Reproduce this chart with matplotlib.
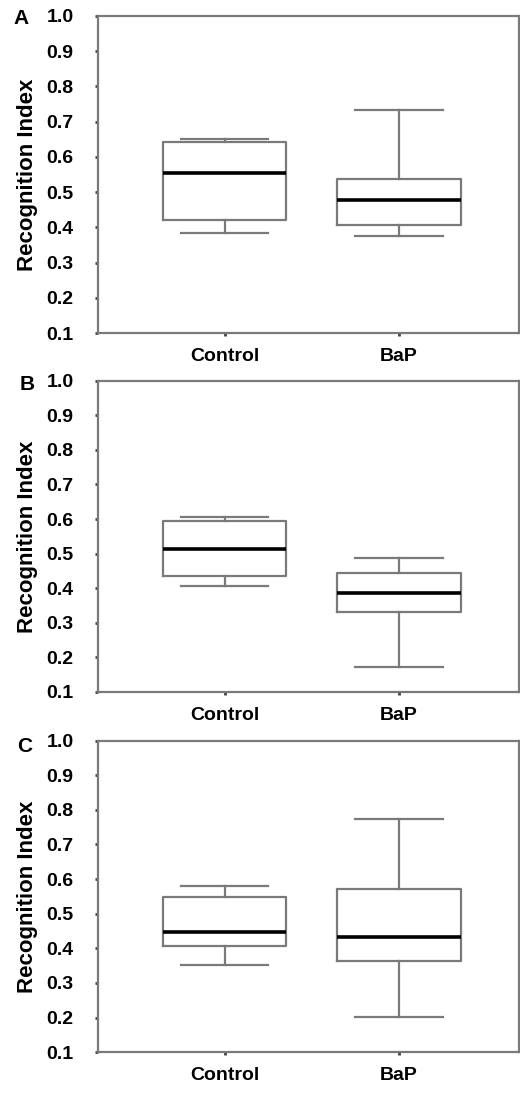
import matplotlib.pyplot as plt

plt.rcParams['font.family'] = ['Liberation Sans', 'DejaVu Sans']

groups = ["Control", "BaP"]
panel_labels = ["A", "B", "C"]

# box statistics per panel, [Control, BaP]
whislo = [[0.384, 0.375], [0.406, 0.171], [0.352, 0.203]]
q1 = [[0.420, 0.406], [0.435, 0.332], [0.408, 0.364]]
med = [[0.554, 0.477], [0.512, 0.385], [0.447, 0.434]]
q3 = [[0.642, 0.537], [0.595, 0.443], [0.549, 0.571]]
whishi = [[0.650, 0.733], [0.606, 0.488], [0.581, 0.774]]

yticks = [0.1, 0.2, 0.3, 0.4, 0.5, 0.6, 0.7, 0.8, 0.9, 1.0]

fig = plt.figure(figsize=(5.2, 10.93), dpi=100)

# axes rectangles (left, bottom, width, height)
rects = [
    (0.1885, 0.6953, 0.81, 0.2901),
    (0.1885, 0.3669, 0.81, 0.2848),
    (0.1885, 0.0373, 0.81, 0.2851),
]
letter_pos = [(21, 18), (27, 385), (25, 746)]
gray = '#7a7a7a'

for i in range(3):
    ax = fig.add_axes(rects[i])
    stats = []
    for j in range(2):
        stats.append({
            'whislo': whislo[i][j], 'q1': q1[i][j], 'med': med[i][j],
            'q3': q3[i][j], 'whishi': whishi[i][j], 'fliers': [],
        })
    ax.bxp(stats, positions=[1, 2], widths=0.71, capwidths=0.5,
           showfliers=False,
           boxprops=dict(color=gray, linewidth=1.6),
           whiskerprops=dict(color=gray, linewidth=1.6),
           capprops=dict(color=gray, linewidth=1.6),
           medianprops=dict(color='black', linewidth=2.6))
    ax.set_xlim(0.274, 2.69)
    ax.set_ylim(0.1, 1.0)
    ax.set_yticks(yticks)
    ax.set_yticklabels([f"{v:.1f}" for v in yticks], fontsize=14, fontweight='bold')
    ax.set_xticks([1, 2])
    ax.set_xticklabels(groups, fontsize=14, fontweight='bold')
    ax.tick_params(axis='y', direction='out', length=2.5, width=2, color='#444444', pad=15)
    ax.tick_params(axis='x', direction='out', length=2.5, width=2, color='#444444', pad=8)
    for s in ax.spines.values():
        s.set_color(gray)
        s.set_linewidth(1.6)
    ax.set_ylabel("Recognition Index", fontsize=16, fontweight='bold', labelpad=6)
    lx, ly = letter_pos[i]
    fig.text(lx / 520, 1 - ly / 1093, panel_labels[i], fontsize=15, fontweight='bold',
             ha='center', va='center')

fig.savefig("out.png", dpi=100)
